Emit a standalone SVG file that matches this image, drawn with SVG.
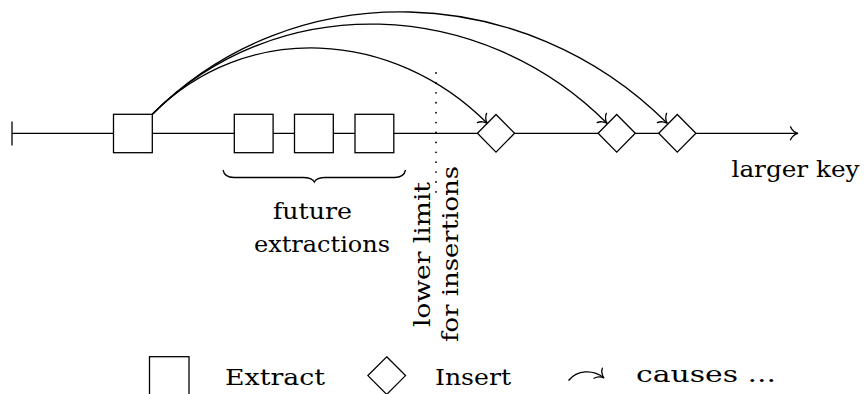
<svg xmlns="http://www.w3.org/2000/svg" width="866" height="394" viewBox="0 0 866 394">
<style>
.ln{fill:none;stroke:#000;stroke-width:1.3}
.nd{fill:#fff;stroke:#000;stroke-width:1.3}
.tx{font-family:"DejaVu Serif","Liberation Serif",serif;font-size:22px;fill:#000}
.dot{fill:none;stroke:#000;stroke-width:1.8;stroke-linecap:round;stroke-dasharray:0.01 9.9}
</style>
<defs>
<marker id="to" markerUnits="userSpaceOnUse" markerWidth="20" markerHeight="20" refX="0" refY="0" viewBox="-10 -10 20 20" orient="auto" overflow="visible">
<path d="M-7.5,-6.5 C-6.5,-3.5 -3,-0.6 0,0 C-3,0.6 -6.5,3.5 -7.5,6.5" fill="none" stroke="#000" stroke-width="1.3" stroke-linecap="round"/>
</marker>
</defs>
<g id="axis">
<line class="ln" x1="12" y1="121.5" x2="12" y2="145.5"/>
<line class="ln" x1="12" y1="133.3" x2="798" y2="133.3" marker-end="url(#to)"/>
<text class="tx" x="731.5" y="177" textLength="128" lengthAdjust="spacingAndGlyphs">larger key</text>
</g>
<g id="limit">
<line class="dot" x1="436" y1="73" x2="436" y2="194"/>
<text class="tx" transform="translate(430,254.5) rotate(-90)" text-anchor="middle" textLength="145" lengthAdjust="spacingAndGlyphs">lower limit</text>
<text class="tx" transform="translate(458,254) rotate(-90)" text-anchor="middle" textLength="176" lengthAdjust="spacingAndGlyphs">for insertions</text>
</g>
<g id="extract-now">
<rect class="nd" x="113.5" y="114.3" width="38.8" height="38.4"/>
</g>
<g id="extract-future-1">
<rect class="nd" x="234.3" y="114.3" width="38.8" height="38.4"/>
</g>
<g id="extract-future-2">
<rect class="nd" x="294.5" y="114.3" width="38.8" height="38.4"/>
</g>
<g id="extract-future-3">
<rect class="nd" x="355" y="114.3" width="38.8" height="38.4"/>
</g>
<g id="insert-1">
<polygon class="nd" points="496,114.5 514.6,133.3 496,152.1 477.4,133.3"/>
</g>
<g id="insert-2">
<polygon class="nd" points="616.7,114.5 635.3,133.3 616.7,152.1 598.1,133.3"/>
</g>
<g id="insert-3">
<polygon class="nd" points="677.3,114.5 695.9,133.3 677.3,152.1 658.7,133.3"/>
</g>
<g id="future-brace">
<path class="ln" d="M223,170 Q224.5,177.5 234,177.5 L303,177.5 Q312,177.5 314.3,182 Q316.6,177.5 325.6,177.5 L394.5,177.5 Q404,177.5 405.5,170"/>
<text class="tx" x="312.5" y="218.5" text-anchor="middle" textLength="79" lengthAdjust="spacingAndGlyphs">future</text>
<text class="tx" x="322" y="251.5" text-anchor="middle" textLength="136" lengthAdjust="spacingAndGlyphs">extractions</text>
</g>
<g id="connectors">
<path class="ln" d="M152.3,114.3 C246,20 393,29 487.3,123.3" marker-end="url(#to)"/>
<path class="ln" d="M152.3,114.3 C277.8,-11.8 481.2,-2.8 607,123.3" marker-end="url(#to)"/>
<path class="ln" d="M152.3,114.3 C294.1,-28.1 524.9,-19.1 667.3,123.3" marker-end="url(#to)"/>
</g>
<g id="legend">
<rect class="nd" x="149.5" y="356.7" width="39.5" height="40"/>
<text class="tx" x="225" y="384.5" textLength="100" lengthAdjust="spacingAndGlyphs">Extract</text>
<polygon class="nd" points="386.7,356.8 405.5,375.6 386.7,394.4 367.9,375.6"/>
<text class="tx" x="435" y="384.5" textLength="76" lengthAdjust="spacingAndGlyphs">Insert</text>
<path class="ln" d="M568.5,380.5 C577,370 593,369 604,378" marker-end="url(#to)"/>
<text class="tx" x="636" y="381.5" textLength="140" lengthAdjust="spacingAndGlyphs">causes ...</text>
</g>
</svg>
